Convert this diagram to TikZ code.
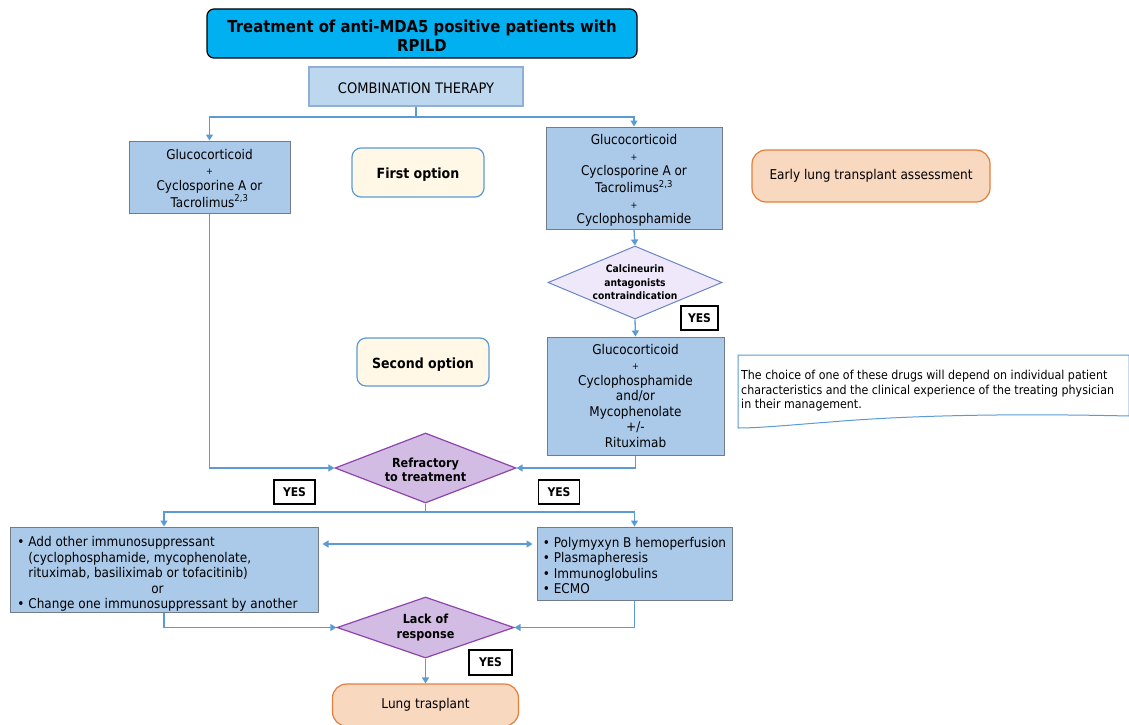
\documentclass[tikz,border=0pt]{standalone}
\usepackage{fontspec}
\setmainfont{DejaVu Sans}[FakeStretch=0.9]
\usetikzlibrary{shapes.geometric,arrows.meta}
\definecolor{titlecyan}{HTML}{00B0F0}
\definecolor{combofill}{HTML}{BDD7EE}
\definecolor{comboline}{HTML}{8FAFD6}
\definecolor{boxfill}{HTML}{ABCAEA}
\definecolor{boxline}{HTML}{707C8A}
\definecolor{creamfill}{HTML}{FFF8E6}
\definecolor{optline}{HTML}{5B9BD5}
\definecolor{peachfill}{HTML}{F9D8C0}
\definecolor{peachline}{HTML}{E37F3C}
\definecolor{lavfill}{HTML}{EEE8FA}
\definecolor{lavline}{HTML}{6B86C4}
\definecolor{purpfill}{HTML}{D3BCE3}
\definecolor{purpline}{HTML}{8E44AD}
\definecolor{arrowblue}{HTML}{5B9BD5}
% lower a block of text without changing its reported size
\newcommand{\dnshift}[2]{\raisebox{-#1}[\height][\depth]{#2}}
\newcommand{\cblock}[1]{\begin{tabular}{@{}c@{}}#1\end{tabular}}
\newcommand{\smallplus}{{\fontsize{9}{9}\selectfont +}}
\tikzset{
  base/.style={inner sep=0pt, align=center, font=\fontsize{13.4}{15.5}\selectfont},
  titlebox/.style={base, draw=black, line width=1.2pt, fill=titlecyan, rounded corners=7pt, font=\bfseries\fontsize{16.5}{19}\selectfont},
  combobox/.style={base, draw=comboline, line width=1.2pt, fill=combofill, font=\fontsize{14.5}{16}\selectfont},
  drugbox/.style={base, draw=boxline, line width=1pt, fill=boxfill},
  optbox/.style={base, draw=optline, line width=1.2pt, fill=creamfill, rounded corners=9pt, font=\bfseries\fontsize{14}{16}\selectfont},
  peachbox/.style={base, draw=peachline, line width=1.2pt, fill=peachfill, rounded corners=14pt, font=\fontsize{13.5}{16}\selectfont},
  lavdiam/.style={base, diamond, draw=lavline, line width=1pt, fill=lavfill, font=\bfseries\fontsize{10.2}{13.5}\selectfont},
  purpdiam/.style={base, diamond, draw=purpline, line width=1.2pt, fill=purpfill, font=\bfseries\fontsize{12.5}{14.5}\selectfont},
  yesbox/.style={base, draw=black, line width=1.5pt, fill=white, font=\bfseries\fontsize{12}{15}\selectfont},
  arr/.style={draw=arrowblue, line width=1.3pt, -{Triangle[width=7pt,length=6pt]}},
  dblarr/.style={draw=arrowblue, line width=1.3pt, {Triangle[width=7pt,length=6pt]}-{Triangle[width=7pt,length=6pt]}},
  ln/.style={draw=arrowblue, line width=1.3pt}
}
\begin{document}
\begin{tikzpicture}[x=1pt,y=-1pt]
\useasboundingbox (0,0) rectangle (1129,725);
\fill[white] (0,0) rectangle (1129,725);

\node[titlebox, minimum width=430, minimum height=49] (title) at (422,33.5)
  {\dnshift{5pt}{\cblock{Treatment of anti-MDA5 positive patients with\\RPILD}}};
\node[combobox, minimum width=214, minimum height=39] (combo) at (416,86.5) {\dnshift{2pt}{COMBINATION THERAPY}};

\node[drugbox, minimum width=161, minimum height=72] (lb1) at (209.5,177)
  {\dnshift{3pt}{\cblock{Glucocorticoid\\\smallplus\\Cyclosporine A or\\Tacrolimus\textsuperscript{2,3}}}};
\node[optbox, minimum width=132, minimum height=49] (first) at (418,172.5) {\dnshift{2pt}{First option}};
\node[drugbox, minimum width=176, minimum height=102] (rb1) at (634,178)
  {\dnshift{3pt}{\cblock{Glucocorticoid\\\smallplus\\Cyclosporine A or\\Tacrolimus\textsuperscript{2,3}\\\smallplus\\Cyclophosphamide}}};
\node[peachbox, minimum width=238, minimum height=52] (early) at (871,176) {Early lung transplant assessment};

\node[lavdiam, minimum width=174, minimum height=73, aspect=2.4] (calc) at (635,282.5) {Calcineurin\\antagonists\\contraindication};
\node[yesbox, minimum width=37, minimum height=24] (yes1) at (699.5,318) {YES};

\node[optbox, minimum width=132, minimum height=48] (second) at (423,362) {\dnshift{2.5pt}{Second option}};
\node[drugbox, minimum width=177, minimum height=118] (rb2) at (635.5,396)
  {\dnshift{1.5pt}{\cblock{Glucocorticoid\\\smallplus\\Cyclophosphamide\\and/or\\Mycophenolate\\+/-\\Rituximab}}};

\draw[draw=optline, line width=1pt, fill=white] (738,355) -- (1129,355) -- (1129,416)
  .. controls (1000,413) and (900,416) .. (830,422) .. controls (790,425) and (760,428) .. (738,428) -- cycle;
\node[base, align=left, anchor=west, font=\fontsize{12.3}{14.5}\selectfont] (note) at (741,391)
  {The choice of one of these drugs will depend on individual patient\\characteristics and the clinical experience of the treating physician\\in their management.};

\node[purpdiam, minimum width=181, minimum height=70, aspect=2.6] (refr) at (425.5,468)
  {\dnshift{3.5pt}{\cblock{Refractory\\to treatment}}};
\node[yesbox, minimum width=41, minimum height=24] (yes2) at (294.5,492) {YES};
\node[yesbox, minimum width=41, minimum height=24] (yes3) at (559,492) {YES};

\node[drugbox, minimum width=308, minimum height=85] (lb3) at (164,569.5)
  {\hbox{\dnshift{5pt}{\begin{tabular}{@{}l@{}}
   • Add other immunosuppressant\\
   \phantom{• }(cyclophosphamide, mycophenolate,\\
   \phantom{• }rituximab, basiliximab or tofacitinib)\\
   \multicolumn{1}{c}{or}\\
   • Change one immunosuppressant by another
   \end{tabular}}\kern13pt}};
\node[drugbox, minimum width=195, minimum height=73] (rb3) at (634.5,563.5)
  {\dnshift{4pt}{\begin{tabular}{@{}l@{}}
   • Polymyxyn B hemoperfusion\\
   • Plasmapheresis\\
   • Immunoglobulins\\
   • ECMO
   \end{tabular}}};

\node[purpdiam, minimum width=177, minimum height=61, aspect=2.9] (lack) at (425.5,627.5) {Lack of\\response};
\node[yesbox, minimum width=43, minimum height=25] (yes4) at (490.5,662.5) {YES};
\node[peachbox, minimum width=186, minimum height=42] (lung) at (425.5,705) {Lung trasplant};

% connectors
\coordinate (j1) at (416,117);
\draw[ln] (combo.south) -- (j1);
\draw[arr] (j1) -| (lb1.north);
\draw[arr] (j1) -| (rb1.north);
\draw[arr] (rb1.south) -- (calc.north);
\draw[arr] (calc.south) -- (rb2.north);
\draw[arr] (lb1.south) |- (refr.west);
\draw[arr] (rb2.south) |- (refr.east);
\coordinate (j2) at (425.5,512);
\draw[ln] (refr.south) -- (j2);
\draw[arr] (j2) -| (lb3.north);
\draw[arr] (j2) -| (rb3.north);
\draw[dblarr, shorten <=4pt, shorten >=4pt] (lb3.east |- 0,544) -- (rb3.west |- 0,544);
\draw[arr] (lb3.south) |- (lack.west);
\draw[arr] (rb3.south) |- (lack.east);
\draw[arr] (lack.south) -- (lung.north);
\end{tikzpicture}
\end{document}
